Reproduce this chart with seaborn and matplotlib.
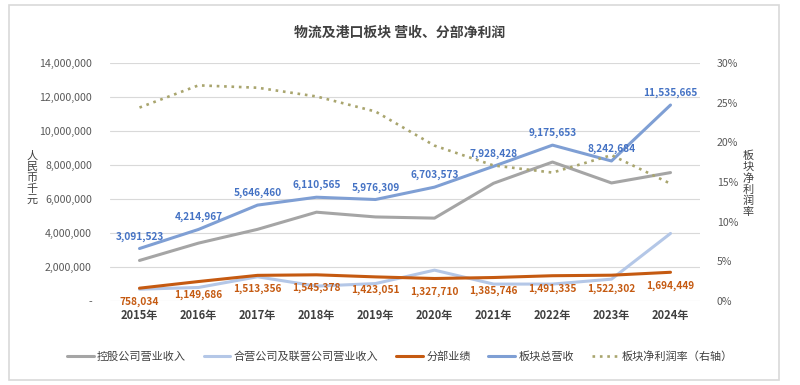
import matplotlib
matplotlib.use("Agg")
import matplotlib.pyplot as plt
from matplotlib.patches import Rectangle
from matplotlib.ticker import FuncFormatter
import numpy as np
import pandas as pd
import seaborn as sns

years = ["2015年", "2016年", "2017年", "2018年", "2019年",
         "2020年", "2021年", "2022年", "2023年", "2024年"]
holding_rev = [2390000, 3410000, 4220000, 5230000, 4950000,
               4880000, 6930000, 8180000, 6950000, 7560000]
jv_rev = [700000, 800000, 1430000, 880000, 1030000,
          1820000, 1000000, 1000000, 1290000, 3980000]
segment_profit = [758034, 1149686, 1513356, 1545378, 1423051,
                  1327710, 1385746, 1491335, 1522302, 1694449]
total_rev = [3091523, 4214967, 5646460, 6110565, 5976309,
             6703573, 7928428, 9175653, 8242684, 11535665]
margin = [24.4, 27.2, 26.9, 25.8, 23.9, 19.6, 17.1, 16.2, 18.4, 14.8]

series_names = ["控股公司营业收入", "合营公司及联营公司营业收入", "分部业绩", "板块总营收"]
series_colors = ["#A5A5A5", "#B4C7E7", "#C55A11", "#7F9FD4"]
margin_name = "板块净利润率（右轴）"
margin_color = "#A9A56E"
dots = (0, (1, 1.8))

sns.set_theme(style="white")
plt.rcParams["font.family"] = ["Noto Sans CJK SC", "DejaVu Sans"]

x = np.arange(len(years))
df = pd.DataFrame({
    "idx": np.tile(x, 4),
    "value": holding_rev + jv_rev + segment_profit + total_rev,
    "series": np.repeat(series_names, len(years)),
})

fig = plt.figure(figsize=(8, 3.85), dpi=100)
ax = fig.add_axes([0.1375, 0.218, 0.7375, 0.618])

sns.lineplot(data=df, x="idx", y="value", hue="series", hue_order=series_names,
             palette=series_colors, linewidth=2.2, ax=ax, legend=False)

ax2 = ax.twinx()
sns.lineplot(x=x, y=margin, color=margin_color, linewidth=1.9,
             linestyle=dots, ax=ax2, legend=False)

ax.set_xlim(-0.5, 9.5)
ax.set_ylim(0, 14000000)
ax.set_yticks(np.arange(0, 14000001, 2000000))
ax.yaxis.set_major_formatter(FuncFormatter(lambda v, p: "-" if v == 0 else f"{v:,.0f}"))
ax2.set_ylim(0, 30)
ax2.set_yticks(np.arange(0, 31, 5))
ax2.yaxis.set_major_formatter(FuncFormatter(lambda v, p: f"{v:.0f}%"))

ax.set_xticks(x)
ax.set_xticklabels(years, fontsize=8, fontweight="bold", color="#404040")
ax.tick_params(axis="y", labelsize=7.6, labelcolor="#595959", length=0, pad=13)
ax.tick_params(axis="x", length=0, pad=6)
ax2.tick_params(axis="y", labelsize=7.6, labelcolor="#595959", length=0, pad=12)
ax.set_xlabel("")
ax.set_ylabel("")
ax2.set_ylabel("")

ax.grid(axis="y", color="#D9D9D9", linewidth=0.8)
ax.set_axisbelow(True)
for a in (ax, ax2):
    for s in a.spines.values():
        s.set_visible(False)

for i in x:
    ax.annotate(f"{total_rev[i]:,}", (i, total_rev[i]), xytext=(0, 5),
                textcoords="offset points", ha="center", va="bottom",
                fontsize=7.3, fontweight="bold", color="#4472C4")
    ax.annotate(f"{segment_profit[i]:,}", (i, segment_profit[i]), xytext=(0, -6),
                textcoords="offset points", ha="center", va="top",
                fontsize=7.3, fontweight="bold", color="#C55A11")

fig.text(0.5, 0.915, "物流及港口板块 营收、分部净利润", ha="center", va="center",
         fontsize=10, fontweight="bold", color="#404040")
fig.text(0.040, 0.538, "\n".join("人民币千元"), ha="center", va="center",
         fontsize=8, color="#404040", linespacing=1.1)
fig.text(0.935, 0.522, "\n".join("板块净利润率"), ha="center", va="center",
         fontsize=8, color="#404040", linespacing=1.1)

handles = [plt.Line2D([], [], color=c, linewidth=2.2) for c in series_colors]
handles.append(plt.Line2D([], [], color=margin_color, linewidth=1.9, linestyle=dots))
fig.legend(handles, series_names + [margin_name], loc="center", ncol=5,
           bbox_to_anchor=(0.5, 0.075), frameon=False, fontsize=8,
           handlelength=2.4, handletextpad=0.3, columnspacing=1.6,
           labelcolor="#404040")

fig.patches.append(Rectangle((0.011, 0.013), 0.963, 0.975, transform=fig.transFigure,
                             fill=False, edgecolor="#D9D9D9", linewidth=1.2))

fig.savefig("out.png", dpi=100)
